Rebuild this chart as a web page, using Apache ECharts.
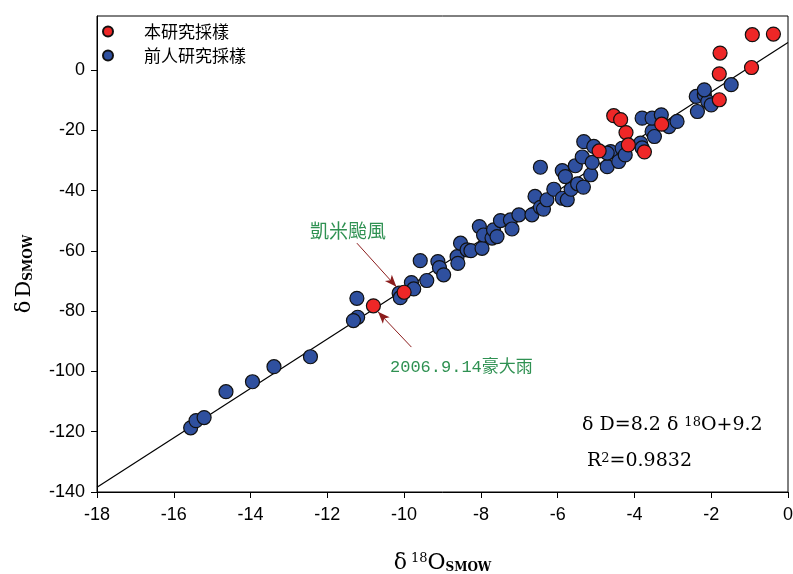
<!DOCTYPE html>
<html>
<head>
<meta charset="utf-8">
<script src="https://cdn.jsdelivr.net/npm/echarts@6/dist/echarts.min.js"></script>
<style>
html, body { margin: 0; padding: 0; background: #fff; }
#chart { width: 793px; height: 574px; }
</style>
</head>
<body>
<div id="chart"></div>
<script>
// 本研究採樣 (red)
const ourX = [-0.38, -0.93, -1.77, -1.79, -0.95, -1.79, -4.54, -4.36, -4.22, -4.16, -4.92, -3.29, -3.74, -10.0, -10.8]
const ourY = [12.0, 11.8, 5.7, -1.2, 0.9, -9.8, -15.1, -16.4, -20.7, -24.8, -26.8, -17.9, -27.1, -73.7, -78.2]

// 前人研究採樣 (blue)
const prevX = [-15.56, -15.42, -15.21, -14.64, -13.95, -13.39, -12.44, -11.23, -11.21, -11.32,
    -10.13, -10.10, -9.81, -9.75, -9.41, -9.58, -9.12, -9.08, -8.97, -8.62,
    -8.60, -8.53, -8.36, -8.26, -7.97, -8.04, -7.93, -7.71, -7.67, -7.58,
    -7.49, -7.23, -7.19, -7.01, -6.67, -6.59, -6.45, -6.37, -6.28, -6.45,
    -6.10, -5.88, -5.75, -5.65, -5.48, -5.33, -5.88, -5.80, -5.54, -5.36,
    -5.14, -5.32, -5.06, -4.62, -5.10, -4.71, -4.41, -4.32, -4.24, -4.71,
    -3.84, -3.80, -3.54, -3.48, -3.80, -3.54, -3.30, -3.10, -2.89, -2.39,
    -2.18, -2.09, -2.00, -2.36, -1.48, -2.18]
const prevY = [-118.7, -116.3, -115.3, -106.7, -103.4, -98.4, -95.1, -75.7, -82.0, -83.1,
    -74.0, -75.5, -70.5, -72.6, -69.8, -63.2, -63.5, -65.5, -67.9, -61.9,
    -64.1, -57.4, -59.6, -59.9, -59.1, -51.9, -54.7, -55.7, -53.0, -55.2,
    -49.9, -49.7, -52.7, -48.0, -48.0, -41.9, -45.5, -46.1, -43.0, -32.2,
    -39.5, -42.5, -43.0, -39.5, -37.7, -38.8, -33.3, -35.3, -31.7, -28.8,
    -34.7, -23.7, -25.3, -27.0, -30.6, -32.0, -30.3, -25.9, -28.1, -27.5,
    -24.2, -25.8, -20.3, -22.0, -15.9, -15.9, -14.8, -18.7, -17.0, -8.7,
    -8.1, -10.4, -11.5, -13.7, -4.8, -6.5]

// regression line δD = 8.2 δ18O + 9.2
const fitSlope = 8.2
const fitIntercept = 9.2
const fitX = [-18, 0]

const xTicks = { min: -18, max: 0, interval: 2 }
const yTicks = { min: -140, max: 18, interval: 20 }

const zip = (xs, ys) => xs.map((x, i) => [x, ys[i]])

const chart = echarts.init(document.getElementById('chart'))

const serif = "'DejaVu Serif', 'Liberation Serif', serif"
const green = '#2f9152'
const arrowColor = '#8b1c1c'

chart.setOption({
    animation: false,
    grid: {
        left: 97, right: 5, top: 16, bottom: 82,
        outerBoundsMode: 'none',
        containLabel: false,
        show: true, borderColor: '#000', borderWidth: 1
    },
    legend: {
        orient: 'vertical',
        left: 97,
        top: 18,
        itemGap: 7,
        itemWidth: 10,
        itemHeight: 10,
        icon: 'circle',
        textStyle: { fontSize: 17, color: '#000', fontFamily: "'Noto Sans CJK TC'", padding: [0, 0, 0, 26] },
        data: ['本研究採樣', '前人研究採樣']
    },
    xAxis: {
        type: 'value',
        min: xTicks.min, max: xTicks.max, interval: xTicks.interval,
        splitLine: { show: false },
        axisLine: { onZero: false, lineStyle: { color: '#000', width: 1 } },
        axisTick: { inside: false, length: 6, lineStyle: { color: '#000' } },
        axisLabel: { color: '#000', fontSize: 18, margin: 14, fontFamily: "'Liberation Sans', Arial" },
        name: '{d|δ}{sup|18}{o|O}{s|SMOW}',
        nameLocation: 'middle',
        nameGap: 60,
        nameTextStyle: {
            rich: {
                d: { fontSize: 22, fontFamily: serif, color: '#000' },
                sup: { fontSize: 13, fontFamily: serif, color: '#000', verticalAlign: 'top', padding: [0, 0, 0, 4] },
                o: { fontSize: 22, fontFamily: serif, color: '#000' },
                s: { fontSize: 12, fontFamily: serif, color: '#000', verticalAlign: 'bottom', fontWeight: 'bold' }
            }
        }
    },
    yAxis: {
        type: 'value',
        min: yTicks.min, max: yTicks.max, interval: yTicks.interval,
        splitLine: { show: false },
        axisLine: { onZero: false, lineStyle: { color: '#000', width: 1 } },
        axisTick: { inside: false, length: 6, lineStyle: { color: '#000' } },
        axisLabel: { color: '#000', fontSize: 18, margin: 12, showMaxLabel: false, fontFamily: "'Liberation Sans', Arial" },
        name: '{d|δ}{D|D}{s|SMOW}',
        nameLocation: 'middle',
        nameGap: 62,
        nameRotate: 90,
        nameTextStyle: {
            padding: [0, 40, 0, 0],
            rich: {
                d: { fontSize: 21, fontFamily: serif, color: '#000' },
                D: { fontSize: 21, fontFamily: serif, color: '#000', padding: [0, 0, 0, 3] },
                s: { fontSize: 12, fontFamily: serif, color: '#000', verticalAlign: 'bottom', fontWeight: 'bold' }
            }
        }
    },
    series: [
        {
            name: 'fit',
            type: 'line',
            data: fitX.map(x => [x, fitSlope * x + fitIntercept]),
            symbol: 'none',
            lineStyle: { color: '#000', width: 1.2 },
            z: 1,
            silent: true
        },
        {
            name: '前人研究採樣',
            type: 'scatter',
            data: zip(prevX, prevY),
            symbolSize: 14,
            itemStyle: { color: '#2f509f', borderColor: '#111', borderWidth: 1.2, opacity: 1 },
            z: 2
        },
        {
            name: '本研究採樣',
            type: 'scatter',
            data: zip(ourX, ourY),
            symbolSize: 14,
            itemStyle: { color: '#ee2727', borderColor: '#111', borderWidth: 1.2, opacity: 1 },
            z: 3,
            markLine: {
                silent: true,
                symbol: ['none', 'arrow'],
                symbolSize: [7, 12],
                label: { show: false },
                lineStyle: { color: arrowColor, width: 1, type: 'solid' },
                data: [
                    [{ coord: [-11.23, -57.4] }, { coord: [-10.2, -71.9] }],
                    [{ coord: [-9.81, -91.9] }, { coord: [-10.68, -80.2] }]
                ]
            }
        }
    ],
    graphic: [
        {
            type: 'text', left: 310, top: 221,
            style: { text: '凱米颱風', fill: green, fontSize: 19, fontFamily: "'Noto Sans CJK TC'" }
        },
        {
            type: 'text', left: 390, top: 359,
            style: { text: '2006.9.14豪大雨', fill: green, fontSize: 17, fontFamily: "'Liberation Mono', 'Noto Sans CJK TC'" }
        },
        {
            type: 'text', left: 582, top: 416,
            style: {
                text: '{t|δ D=8.2 δ }{sup|18}{t|O+9.2}',
                rich: {
                    t: { fontSize: 19, fontFamily: serif, fill: '#000' },
                    sup: { fontSize: 13, fontFamily: serif, fill: '#000', verticalAlign: 'top' }
                }
            }
        },
        {
            type: 'text', left: 587, top: 452,
            style: {
                text: '{t|R}{sup|2}{t|=0.9832}',
                rich: {
                    t: { fontSize: 19, fontFamily: serif, fill: '#000' },
                    sup: { fontSize: 13, fontFamily: serif, fill: '#000', verticalAlign: 'top' }
                }
            }
        }
    ]
})
</script>
</body>
</html>
